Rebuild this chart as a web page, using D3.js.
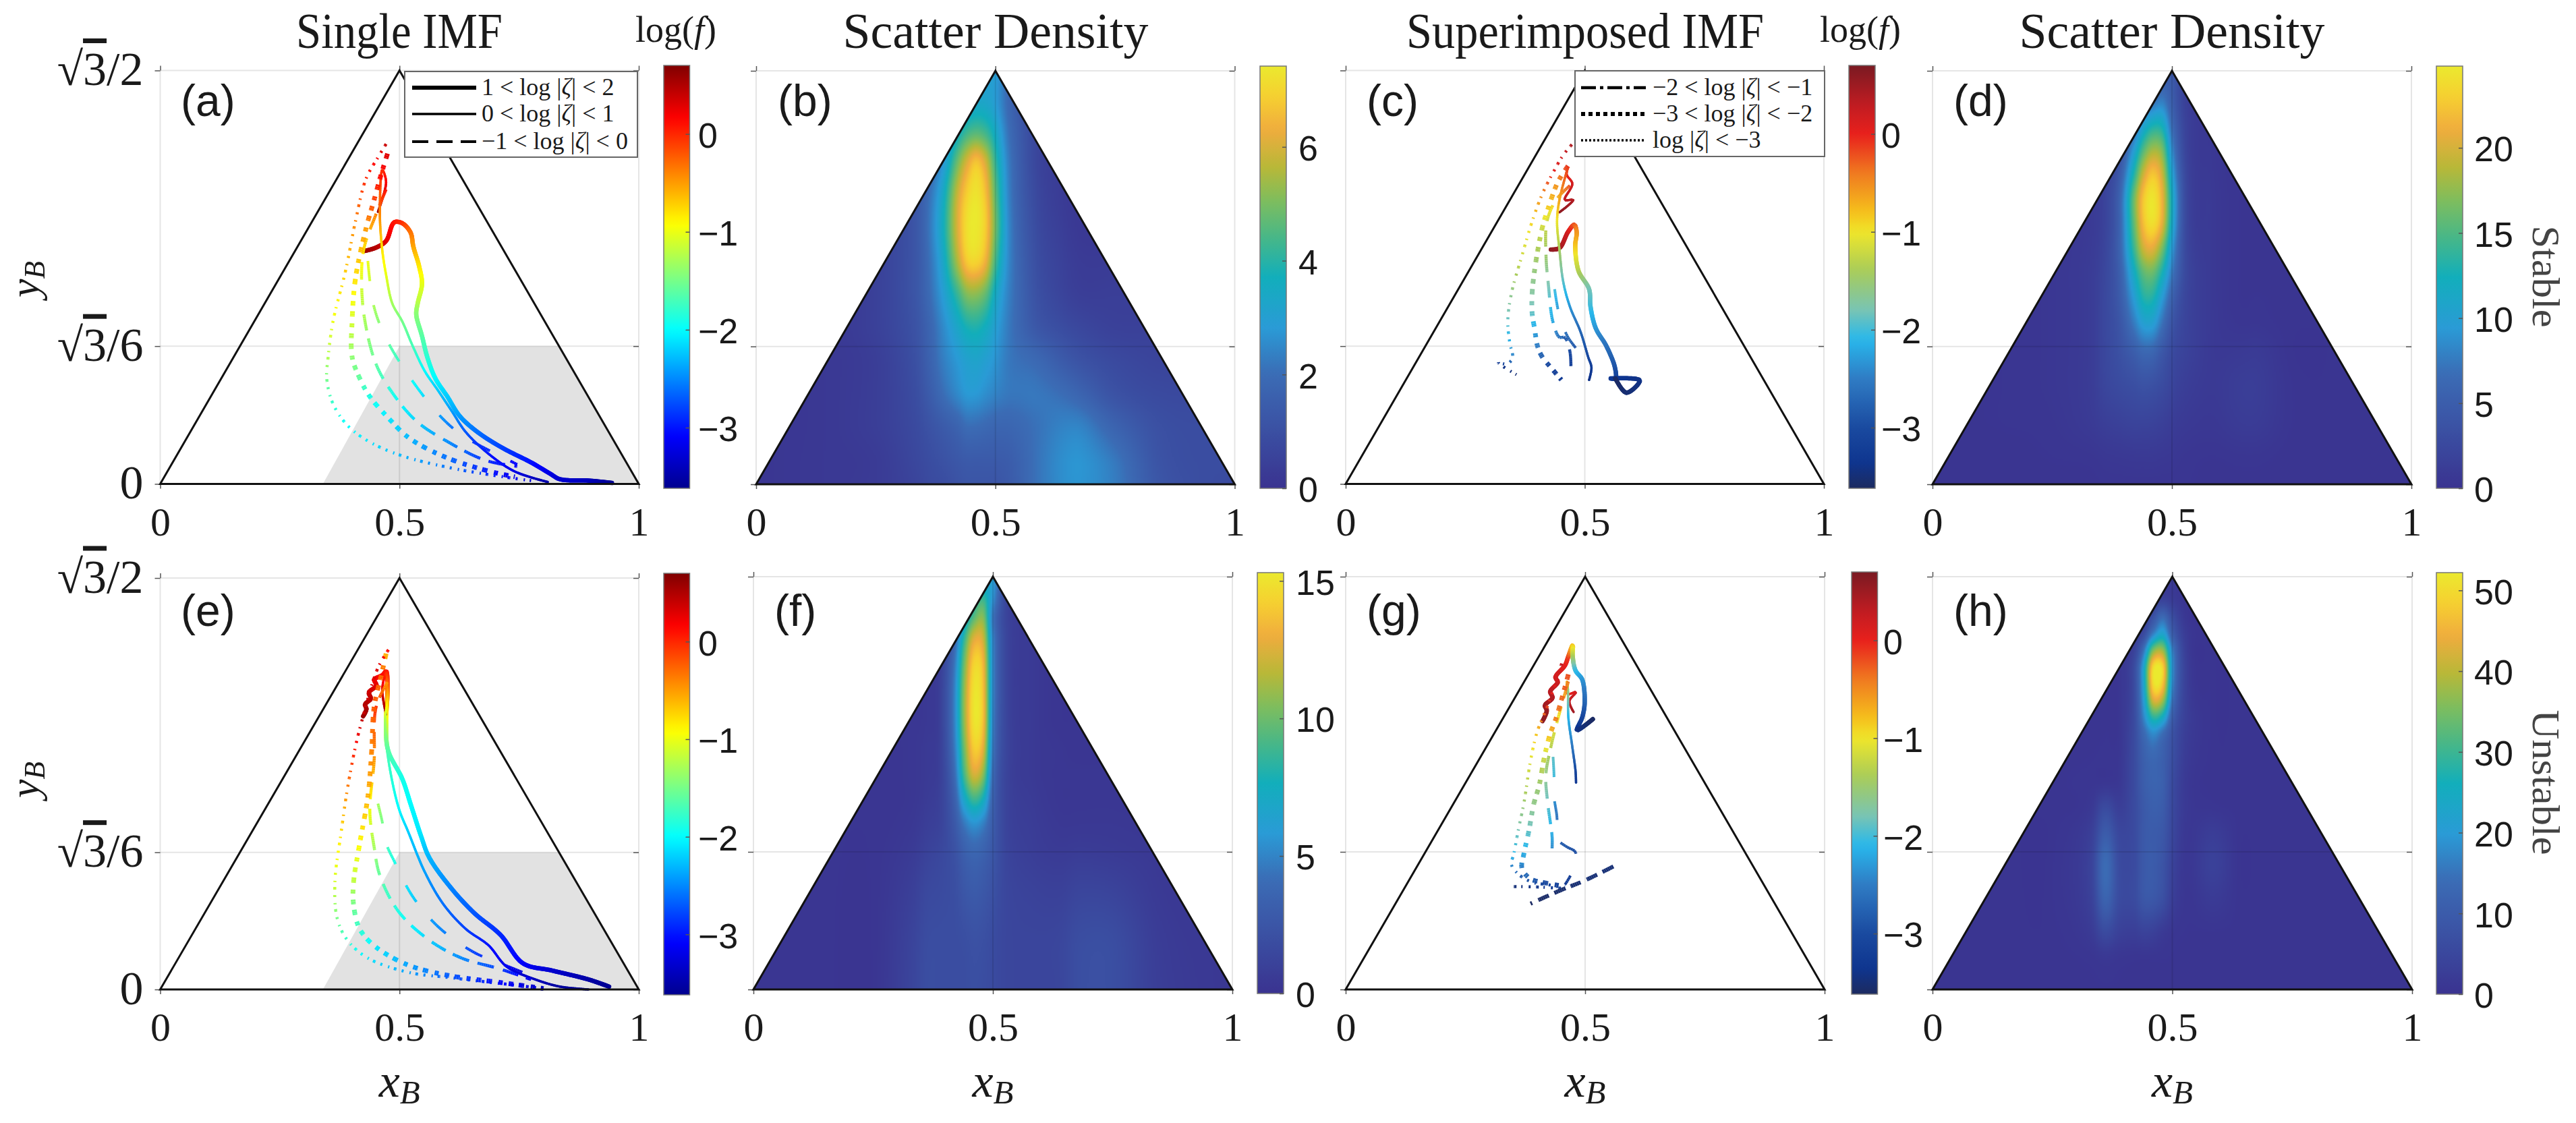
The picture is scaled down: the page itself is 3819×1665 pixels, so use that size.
<!DOCTYPE html>
<html lang="en">
<head>
<meta charset="UTF-8">
<title>Single and superimposed IMF</title>
<script src="https://cdnjs.cloudflare.com/ajax/libs/d3/7.8.5/d3.min.js"></script>
<style>
  body { margin: 0; background: #fff; }
  svg { display: block; filter: blur(0.7px); }
  text { font-family: "Liberation Serif", serif; fill: #1a1a1a; }
  .sans { font-family: "Liberation Sans", sans-serif; }
  .tick line { stroke: #555; stroke-width: 1.5; }
  .domain { display: none; }
</style>
</head>
<body>
<script>
var W = 3819, H = 1665;

// axes
var xTicks = [0, 0.5, 1];
var xTickLabels = ["0", "0.5", "1"];
var yTicks = [0, Math.sqrt(3) / 6, Math.sqrt(3) / 2];
var yTickLabels = [["0"], ["√", "3", "/6"], ["√", "3", "/2"]];
var triangle = [[0, 0], [0.5, Math.sqrt(3) / 2], [1, 0]];
var grayRegion = [[0.34, 0], [0.5, 0.2887], [0.8333, 0.2887], [1, 0]];

// line curves: [x_B, y_B, log f]
var aThick = [[.427,.488,.6],[.451,.495,.5],[.472,.509,.3],[.489,.548,.1],[.506,.546,0],[.523,.527,-.3],[.529,.497,-.5],[.541,.456,-.8],[.547,.419,-1],[.538,.378,-1.2],[.535,.355,-1.4],[.547,.310,-1.6],[.558,.266,-1.8],[.575,.221,-2],[.600,.183,-2.2],[.626,.142,-2.4],[.664,.108,-2.6],[.716,.075,-2.8],[.775,.045,-3],[.814,.022,-3.2],[.835,.010,-3.3],[.895,.007,-3.4],[.944,.002,-3.6]];
var aThin = [[.455,.570,.6],[.472,.632,.2],[.464,.658,0],[.459,.565,-.4],[.464,.490,-.8],[.472,.438,-1],[.485,.378,-1.3],[.506,.340,-1.5],[.528,.288,-1.7],[.553,.236,-2],[.579,.198,-2.2],[.609,.153,-2.4],[.639,.108,-2.7],[.690,.060,-3],[.741,.026,-3.2],[.810,.004,-3.5]];
var aDash = [[.434,.467,-1],[.447,.370,-1.3],[.477,.295,-1.6],[.545,.191,-2.1],[.596,.131,-2.5],[.639,.097,-2.8],[.746,.041,-3.1]];
var aDashDot = [[.472,.617,.1],[.451,.565,-.4],[.425,.490,-.8],[.421,.415,-1.1],[.428,.340,-1.3],[.451,.251,-1.6],[.485,.191,-1.9],[.536,.131,-2.2],[.605,.086,-2.5],[.681,.049,-2.9],[.746,.037,-3.1]];
var aDotThick = [[.475,.692,.3],[.459,.639,.1],[.447,.595,-.1],[.430,.535,-.5],[.408,.430,-.8],[.401,.340,-1.1],[.401,.266,-1.4],[.417,.221,-1.6],[.438,.183,-1.9],[.477,.138,-2.1],[.519,.097,-2.3],[.596,.056,-2.6],[.690,.026,-3],[.741,.015,-3.2]];
var aDotThin = [[.472,.712,.4],[.455,.684,.2],[.430,.639,0],[.408,.550,-.4],[.387,.445,-.7],[.361,.340,-1],[.351,.266,-1.25],[.348,.221,-1.5],[.361,.168,-1.8],[.391,.123,-2],[.434,.090,-2.1],[.502,.060,-2.3],[.605,.034,-2.6],[.716,.015,-3],[.775,.007,-3.3]];

var cThick = [[.429,.491,.6],[.447,.494,.5],[.465,.528,.2],[.478,.543,-.2],[.483,.528,-.5],[.480,.498,-.8],[.487,.446,-1.3],[.509,.408,-1.8],[.512,.371,-2],[.523,.326,-2.3],[.545,.289,-2.6],[.563,.244,-2.9],[.564,.221,-3.1],[.553,.221,-3.3],[.615,.217,-3.4],[.587,.191,-3.5],[.564,.221,-3.6]];
var cThin = [[.447,.569,.6],[.476,.595,.4],[.458,.595,.3],[.474,.629,.2],[.462,.648,0],[.465,.663,-.1],[.447,.595,-.6],[.442,.550,-1],[.447,.491,-1.4],[.455,.423,-1.9],[.469,.371,-2.3],[.491,.319,-2.7],[.507,.266,-3],[.514,.244,-3.2],[.509,.218,-3.4]];
var cDash = [[.437,.408,-2],[.447,.352,-2.4],[.465,.307,-2.7],[.488,.277,-3]];
var cDashDot = [[.469,.625,-.2],[.440,.595,-.8],[.421,.550,-1.2],[.419,.476,-1.5],[.424,.416,-1.8],[.433,.341,-2.2],[.447,.307,-2.6],[.458,.307,-2.8],[.469,.277,-3],[.471,.233,-3.3]];
var cDotThick = [[.465,.666,-.1],[.444,.633,-.5],[.422,.573,-.9],[.411,.536,-1.2],[.397,.461,-1.5],[.390,.401,-1.7],[.390,.356,-1.9],[.395,.326,-2.2],[.401,.289,-2.5],[.411,.266,-2.8],[.429,.244,-3.1],[.451,.218,-3.3]];
var cDotThin = [[.473,.711,.4],[.455,.689,.2],[.433,.651,0],[.411,.607,-.5],[.390,.550,-.9],[.368,.476,-1.2],[.347,.401,-1.6],[.339,.341,-1.9],[.343,.296,-2.2],[.349,.263,-2.5],[.336,.251,-3],[.318,.255,-3.3],[.332,.244,-3.4],[.357,.229,-3.5]];

var eThick = [[.424,.575,.6],[.431,.590,.55],[.428,.600,.5],[.440,.612,.45],[.436,.625,.4],[.452,.640,.3],[.447,.652,.25],[.465,.662,.15],[.472,.670,.1],[.475,.632,-.2],[.472,.564,-1],[.476,.504,-1.6],[.506,.443,-1.9],[.523,.391,-2],[.545,.323,-2.1],[.562,.278,-2.3],[.605,.217,-2.5],[.656,.161,-2.7],[.711,.115,-2.9],[.758,.055,-3.1],[.818,.040,-3.3],[.895,.021,-3.5],[.938,.006,-3.6]];
var eThin = [[.472,.579,.6],[.464,.632,.3],[.472,.666,0],[.475,.617,-.6],[.470,.564,-1.3],[.476,.489,-1.7],[.498,.383,-2],[.519,.330,-2.2],[.553,.247,-2.4],[.592,.179,-2.6],[.639,.127,-2.8],[.686,.093,-3],[.724,.048,-3.2],[.784,.021,-3.4],[.835,.006,-3.55],[.895,0,-3.6]];
var eDash = [[.455,.391,-1.3],[.464,.353,-1.5],[.472,.308,-1.7],[.489,.270,-1.9],[.528,.195,-2.2],[.583,.130,-2.5],[.656,.078,-2.8],[.711,.055,-3.1],[.775,.029,-3.3]];
var eDashDot = [[.475,.647,-.5],[.451,.594,0],[.447,.481,-.5],[.438,.376,-1],[.447,.300,-1.3],[.459,.240,-1.6],[.498,.164,-1.9],[.562,.104,-2.2],[.630,.066,-2.5],[.707,.044,-2.8],[.775,.021,-3.2]];
var eDotThick = [[.472,.707,-.6],[.464,.670,-.3],[.447,.594,-.2],[.442,.504,-.4],[.434,.406,-.6],[.417,.308,-.9],[.404,.225,-1.2],[.404,.179,-1.5],[.417,.127,-1.8],[.451,.089,-2.1],[.519,.051,-2.4],[.605,.029,-2.7],[.716,.014,-3.1],[.801,.002,-3.4]];
var eDotThin = [[.477,.715,.1],[.455,.677,.3],[.421,.564,.4],[.408,.511,.1],[.391,.421,-.4],[.378,.330,-.8],[.365,.225,-1.1],[.370,.149,-1.5],[.391,.104,-1.8],[.434,.066,-2.1],[.519,.036,-2.4],[.605,.025,-2.7],[.733,.010,-3.1],[.801,.002,-3.3]];

var gThick = [[.411,.563,.6],[.420,.585,.55],[.416,.596,.5],[.432,.612,.4],[.427,.625,.35],[.443,.645,.25],[.438,.655,.2],[.458,.680,.05],[.465,.699,-.1],[.474,.722,-.8],[.474,.699,-1.3],[.480,.669,-2],[.494,.650,-2.3],[.499,.601,-2.7],[.494,.571,-3],[.483,.544,-3.4],[.516,.567,-3.6]];
var gThin = [[.476,.582,.5],[.467,.605,.3],[.481,.624,.2],[.464,.620,0],[.462,.646,-.5],[.464,.631,-1.5],[.465,.571,-2.1],[.473,.511,-2.5],[.480,.458,-3],[.481,.434,-3.3]];
var gDash = [[.433,.488,-1.9],[.435,.450,-2],[.435,.405,-2.3],[.441,.364,-2.6],[.444,.314,-2.8],[.462,.299,-2.9],[.480,.288,-3],[.473,.247,-3.2],[.458,.220,-3.3]];
var gDashDot = [[.465,.646,-.4],[.444,.571,-1],[.429,.511,-1.3],[.418,.450,-1.6],[.422,.390,-1.9],[.431,.322,-2.2],[.431,.296,-2.4]];
var gDotThick = [[.465,.661,-.2],[.440,.571,-.4],[.426,.533,-.8],[.415,.488,-1.2],[.404,.428,-1.5],[.393,.390,-1.6],[.382,.330,-1.9],[.372,.284,-2.2],[.368,.254,-2.5],[.386,.232,-2.8],[.415,.224,-3],[.458,.216,-3.2]];
var gDotThin = [[.451,.684,.3],[.437,.639,.1],[.418,.586,-.2],[.400,.541,-.8],[.386,.480,-1.1],[.372,.390,-1.5],[.361,.337,-1.8],[.351,.284,-2.1],[.346,.262,-2.4],[.364,.239,-2.8],[.393,.224,-3],[.422,.220,-3.1],[.451,.213,-3.2],[.400,.215,-3.4],[.346,.216,-3.5]];
var gTail = [[.559,.258,-3.5],[.498,.228,-3.5],[.451,.209,-3.55],[.386,.180,-3.6]];

// density tables: rows are fractions of the triangle height, columns are x_B
var xCols = [0,.15,.25,.33,.36,.39,.42,.44,.46,.48,.50,.53,.585,.64,.68,.75,.85,1];

var bRows = [1,.92,.85,.78,.70,.62,.54,.46,.38,.30,.22,.14,.06,0];
var bDensity = [
  [.1,.1,.1,.1,.1,.1,.1,2,2.4,2.8,2.9,1.8,.6,.2,.2,.1,.1,.1],
  [.1,.1,.2,.6,.9,1.4,2.4,3,3.3,3.3,2.9,1.8,.6,.3,.2,.1,.1,.1],
  [.1,.1,.3,.8,1.3,2.1,3.5,4.3,4.6,4.3,3.5,2,.7,.3,.2,.1,.1,.1],
  [.1,.2,.4,1,1.6,2.7,4.8,6,6.7,5.9,4.2,2.2,.7,.3,.2,.1,.1,.1],
  [.1,.2,.5,1.2,2,3.4,5.8,6.9,7.3,6.6,4.7,2.3,.8,.3,.2,.1,.1,.1],
  [.1,.2,.5,1.2,2.1,3.6,6,7.2,7.4,6.8,4.9,2.4,.9,.4,.2,.2,.1,.1],
  [.1,.2,.5,1.2,2,3.3,5.5,6.8,7,6.3,4.4,2.4,1,.5,.3,.3,.3,.3],
  [.1,.2,.5,1.2,1.9,2.9,4.2,5.1,5.2,4.7,3.5,2.3,1.1,.6,.4,.4,.4,.4],
  [.1,.2,.5,1.1,1.7,2.5,3.3,3.8,3.9,3.6,3,2.2,1.3,.9,.7,.5,.5,.5],
  [.1,.2,.4,1,1.6,2.3,2.8,3.1,3.2,3,2.7,2.2,1.9,1.4,1.1,.8,.6,.6],
  [.1,.2,.4,.9,1.4,2,2.5,2.8,2.8,2.6,2.4,2.2,2.2,2,1.7,1.1,.8,.8],
  [.1,.2,.4,.8,1.1,1.4,1.7,2,2,1.9,1.8,1.8,2.1,2.4,2.4,1.7,1,.9],
  [.1,.2,.3,.7,.9,1.1,1.3,1.4,1.4,1.4,1.4,1.5,2.1,2.6,2.7,2.2,1.1,.9],
  [.1,.2,.3,.6,.8,.9,1.1,1.2,1.2,1.2,1.2,1.4,2.1,2.6,2.7,2.3,1.2,.8]
];

var dRows = [1,.93,.87,.81,.75,.69,.63,.57,.51,.45,.39,.32,.24,.15,.07,0];
var dDensity = [
  [.3,.3,.3,.3,.3,.3,.3,2,3,4,4.5,1.5,.4,.2,.2,.2,.2,.2],
  [.3,.3,.3,.5,.7,1,2.2,4.5,6.5,7.5,5,1.5,.5,.2,.2,.2,.2,.2],
  [.2,.3,.4,.7,1.2,2.2,5.5,10,12.5,12,6.5,1.8,.5,.2,.2,.2,.2,.2],
  [.2,.3,.4,.8,1.5,3.2,9.5,15,18,16.5,8.5,2,.6,.3,.2,.2,.2,.2],
  [.2,.3,.4,.9,1.8,4.5,13,19.5,22.5,19.5,10.5,2.3,.7,.3,.2,.2,.2,.2],
  [.2,.3,.4,.9,2,5.5,16,22.5,24.5,21,12,2.5,.8,.3,.2,.2,.2,.2],
  [.2,.3,.4,.9,2,5.5,15.5,22,24,20.5,11.5,2.5,.8,.3,.2,.2,.2,.2],
  [.2,.3,.5,1,2.2,5.5,14,19.5,20.5,16.5,9.5,2.5,.8,.3,.2,.2,.2,.2],
  [.2,.3,.5,1.1,2.4,5,11.5,15.5,16,12.5,7.5,2.5,.8,.3,.2,.2,.2,.2],
  [.2,.3,.5,1.1,2.5,4.6,9.5,13,13,9.5,5.5,2.2,.8,.3,.3,.2,.2,.2],
  [.2,.3,.5,1.1,2.5,4,7.5,10,10,7,4,2,.8,.4,.4,.2,.2,.2],
  [.2,.3,.5,1.1,2.4,3.5,5,6.2,6,4.3,2.8,1.8,.8,.8,.9,.2,.2,.2],
  [.2,.3,.5,1.1,2.2,2.8,3.3,3.7,3.5,2.9,2.1,1.3,.8,1.2,1.2,.3,.2,.2],
  [.2,.3,.4,.9,1.4,1.7,2,2,1.9,1.6,1.2,.8,.6,1,1,.3,.2,.2],
  [.2,.2,.3,.4,.6,.7,.8,.8,.8,.7,.6,.4,.3,.4,.4,.2,.2,.2],
  [.2,.2,.2,.2,.3,.3,.3,.3,.3,.3,.3,.3,.2,.2,.2,.2,.2,.2]
];

var fRows = [1,.95,.90,.85,.79,.72,.65,.58,.52,.46,.40,.33,.24,.12,0];
var fDensity = [
  [.2,.2,.2,.2,.2,.2,.2,.3,3,5,6,1.2,.5,.2,.2,.2,.2,.2],
  [.2,.2,.2,.2,.2,.2,.3,3,7,8.5,5.5,1.2,.5,.2,.2,.2,.2,.2],
  [.2,.2,.2,.3,.3,.5,2,6,9.5,10.5,4.5,1.2,.5,.2,.2,.2,.2,.2],
  [.2,.2,.2,.3,.4,.7,3.5,8.5,12.5,12,5,1.3,.5,.2,.2,.2,.2,.2],
  [.2,.2,.2,.3,.4,.9,4.5,10,14.3,13.2,5.2,1.3,.5,.2,.2,.2,.2,.2],
  [.2,.2,.2,.3,.4,1,5,10.8,15,13.6,5.2,1.3,.5,.2,.2,.2,.2,.2],
  [.2,.2,.2,.3,.4,1,5,10.8,15,13.6,5,1.3,.5,.2,.2,.2,.2,.2],
  [.2,.2,.2,.3,.5,1,4.6,10,14,12.5,4.6,1.3,.5,.3,.2,.2,.2,.2],
  [.2,.2,.2,.3,.5,1,4,9,12.3,10.5,4,1.2,.5,.3,.3,.3,.2,.2],
  [.2,.2,.2,.3,.6,1.1,3.3,6.8,8.8,7.5,3.4,1.2,.6,.3,.3,.3,.2,.2],
  [.2,.2,.2,.4,.8,1.2,2.7,4.5,5.5,4.8,3,1.2,.7,.4,.4,.4,.3,.2],
  [.2,.2,.2,.6,1.1,1.5,2.2,3.2,3.7,3.4,2.6,1.3,.8,.6,.7,.6,.4,.2],
  [.2,.2,.2,.9,1.5,1.7,2,2.6,2.9,2.7,2.2,1.4,1.1,1,1.3,1.2,.5,.2],
  [.2,.2,.2,1.2,1.8,1.9,1.9,2,2.2,2.1,1.8,1.4,1.3,1.4,1.9,1.9,.7,.3],
  [.2,.2,.2,1.3,1.9,1.9,1.9,1.9,2,1.9,1.7,1.4,1.3,1.4,2,2,.8,.3]
];

var hRows = [1,.95,.90,.86,.82,.78,.74,.70,.66,.62,.56,.50,.44,.38,.30,.22,.14,.08,0];
var hDensity = [
  [.5,.5,.5,.5,.5,.5,.5,.5,.5,1.5,2,.5,.5,.5,.5,.5,.5,.5],
  [.5,.5,.5,.5,.5,.5,.5,.5,2,3,2,.5,.5,.5,.5,.5,.5,.5],
  [.5,.5,.5,.5,.5,.5,.5,2,8,14,7,1,.5,.5,.5,.5,.5,.5],
  [.5,.5,.5,.5,.5,.6,2,6,17,23,11,2,.5,.5,.5,.5,.5,.5],
  [.5,.5,.5,.5,.5,.8,4,15,36,38,17,2.5,.5,.5,.5,.5,.5,.5],
  [.5,.5,.5,.5,.5,1,6,22,50,49,19,3,.5,.5,.5,.5,.5,.5],
  [.5,.5,.5,.5,.5,1,6,22,50,47,18,3,.5,.5,.5,.5,.5,.5],
  [.5,.5,.5,.5,.5,1,6,20,42,38,15,3,.5,.5,.5,.5,.5,.5],
  [.5,.5,.5,.5,.5,1,6,17,29,25,11,3,.5,.5,.5,.5,.5,.5],
  [.5,.5,.5,.5,.6,1,6,13,18,14,8,2.5,.5,.5,.5,.5,.5,.5],
  [.5,.5,.5,.6,.8,1.2,6,11,13,11,7,2,.5,.5,.5,.5,.5,.5],
  [.5,.5,.5,.8,1,1.5,6,10.5,12,11,6,1.5,.5,.5,.5,.5,.5,.5],
  [.5,.5,.5,1.5,6,3,6,9.5,11,10,5.5,1.5,.8,.5,.5,.5,.5,.5],
  [.5,.5,.5,3,10,5,6,9.5,10,9,5,1.2,2.5,.5,.5,.5,.5,.5],
  [.5,.5,.6,4,14,6,6,9.5,10,8,4,1,3.5,.5,.5,.5,.5,.5],
  [.5,.5,.6,3.5,12,6,6,9,9,7,3,.8,2,.5,.5,.5,.5,.5],
  [.5,.5,.5,2,6,3.5,3,4,3.5,2,1,.6,.6,.5,.5,.5,.5,.5],
  [.5,.5,.5,.8,1.5,1,.8,.8,.8,.7,.6,.5,.5,.5,.5,.5,.5,.5],
  [.5,.5,.5,.5,.5,.5,.5,.5,.5,.5,.5,.5,.5,.5,.5,.5,.5,.5]
];

// colour bars
var logfExtent = [-3.62, 0.7];
var logfTicks = [-3, -2, -1, 0];
var bTicks = [0, 2, 4, 6];
var dTicks = [0, 5, 10, 15, 20];
var fTicks = [0, 5, 10, 15];
var hTicks = [0, 10, 20, 30, 40, 50];

var jetStops = [-3.62, -3.08, -2.0, -0.92, 0.16, 0.7];
var jetColors = ["#00008f", "#0000ff", "#00ffff", "#ffff00", "#ff0000", "#800000"];
var softStops = [-3.62, -3.35, -3, -2.5, -2.1, -1.8, -1.4, -1, -0.8, -0.4, 0, 0.3, 0.7];
var softColors = ["#1c2a60", "#0e3590", "#1a4aa0", "#2f7cc4", "#28b8ec", "#78c4b4", "#a8cc5a", "#f0e62a", "#f5c01c", "#f07a20", "#e8201c", "#c01c22", "#7a1a22"];
var densStops = [0, .27, .38, .5, .58, .68, .76, .85, .93, 1];
var densColors = ["#3a3390", "#3b6cb5", "#2a9bd6", "#12aebb", "#3fb68f", "#7dbd5e", "#b8b838", "#f0ac3e", "#f6d030", "#ebe92e"];

// layout in page pixels
var panels = [
  {id: "a", x0: 237.5, x1: 947, top: 104.5, bottom: 717.5, tag: [268, 172], curves: [aThick, aThin, aDash, aDashDot, aDotThick, aDotThin], soft: false, gray: true, yAxis: true},
  {id: "b", x0: 1121, x1: 1830.5, top: 105, bottom: 718, tag: [1153, 172], rows: bRows, density: bDensity, max: 7.42},
  {id: "c", x0: 1995, x1: 2704, top: 104.5, bottom: 717.5, tag: [2026, 172], curves: [cThick, cThin, cDash, cDashDot, cDotThick, cDotThin], soft: true},
  {id: "d", x0: 2865, x1: 3575, top: 105, bottom: 718, tag: [2896, 172], rows: dRows, density: dDensity, max: 24.8},
  {id: "e", x0: 237.5, x1: 947, top: 857, bottom: 1467, tag: [268, 928], curves: [eThick, eThin, eDash, eDashDot, eDotThick, eDotThin], soft: false, gray: true, yAxis: true, xLabel: true},
  {id: "f", x0: 1117, x1: 1827, top: 855, bottom: 1467, tag: [1148, 928], rows: fRows, density: fDensity, max: 15.3, xLabel: true},
  {id: "g", x0: 1995, x1: 2705, top: 855, bottom: 1467, tag: [2026, 928], curves: [gThick, gThin, gDash, gDashDot, gDotThick, gDotThin], extra: gTail, soft: true, xLabel: true},
  {id: "h", x0: 2865, x1: 3576, top: 855, bottom: 1467, tag: [2896, 928], rows: hRows, density: hDensity, max: 52.2, xLabel: true}
];
var bars = [
  {x: 984, w: 38.5, top: 97, bottom: 724, domain: logfExtent, ticks: logfTicks, labelX: 1035, kind: "jet"},
  {x: 1868, w: 39, top: 98, bottom: 724, domain: [0, 7.42], ticks: bTicks, labelX: 1925, kind: "dens"},
  {x: 2741, w: 39, top: 97, bottom: 724, domain: logfExtent, ticks: logfTicks, labelX: 2789, kind: "soft"},
  {x: 3612, w: 39, top: 98, bottom: 724, domain: [0, 24.8], ticks: dTicks, labelX: 3668, kind: "dens"},
  {x: 984, w: 38.5, top: 850, bottom: 1475, domain: logfExtent, ticks: logfTicks, labelX: 1035, kind: "jet"},
  {x: 1864, w: 39, top: 849, bottom: 1473, domain: [0, 15.3], ticks: fTicks, labelX: 1921, kind: "dens"},
  {x: 2745, w: 38.5, top: 848, bottom: 1474, domain: logfExtent, ticks: logfTicks, labelX: 2792, kind: "soft"},
  {x: 3612, w: 39, top: 849, bottom: 1474, domain: [0, 52.2], ticks: hTicks, labelX: 3668, kind: "dens"}
];
var lineStyles = [
  {w: 6.5, dash: null},
  {w: 3.5, dash: null},
  {w: 4, dash: [30, 34]},
  {w: 4.5, dash: [26, 12]},
  {w: 7, dash: [8, 8]},
  {w: 4.5, dash: [4, 7]}
];

var jet = d3.scaleLinear().domain(jetStops).range(jetColors).clamp(true);
var soft = d3.scaleLinear().domain(softStops).range(softColors).clamp(true);
var dens = d3.scaleLinear().domain(densStops).range(densColors).clamp(true);

var svg = d3.select("body").append("svg").attr("width", W).attr("height", H);
var defs = svg.append("defs");

// cubic through unevenly spaced nodes, slopes from finite differences
function cubicAt(xs, ys, x) {
  var n = xs.length, i = d3.bisectRight(xs, x) - 1;
  i = Math.max(0, Math.min(n - 2, i));
  function slope(k) {
    var a = Math.max(0, k - 1), b = Math.min(n - 1, k + 1);
    return (ys[b] - ys[a]) / (xs[b] - xs[a]);
  }
  var h = xs[i + 1] - xs[i], t = (x - xs[i]) / h, t2 = t * t, t3 = t2 * t;
  return (2 * t3 - 3 * t2 + 1) * ys[i] + (t3 - 2 * t2 + t) * h * slope(i) +
    (-2 * t3 + 3 * t2) * ys[i + 1] + (t3 - t2) * h * slope(i + 1);
}

function densityImage(p, g, x, y) {
  var px = Math.round((p.x1 - p.x0) / 2), py = Math.round((p.bottom - p.top) / 2);
  var canvas = document.createElement("canvas");
  canvas.width = px; canvas.height = py;
  var ctx = canvas.getContext("2d"), img = ctx.createImageData(px, py);
  var tAsc = p.rows.slice().reverse(), tbl = p.density.slice().reverse();
  var col = d3.scaleSequential().domain([0, p.max]).interpolator(function(t) { return dens(t); });
  var fx = d3.scaleLinear().domain([0, px]).range([0, 1]);
  var ft = d3.scaleLinear().domain([py, 0]).range([0, 1]);
  for (var i = 0; i < px; i++) {
    var xb = fx(i + .5);
    var column = tbl.map(function(r) { return cubicAt(xCols, r, xb); });
    for (var j = 0; j < py; j++) {
      var v = cubicAt(tAsc, column, ft(j + .5));
      var c = d3.rgb(col(Math.max(0, Math.min(p.max, v))));
      var k = (j * px + i) * 4;
      img.data[k] = c.r; img.data[k + 1] = c.g; img.data[k + 2] = c.b; img.data[k + 3] = 255;
    }
  }
  ctx.putImageData(img, 0, 0);
  defs.append("clipPath").attr("id", "tri" + p.id).append("polygon")
    .attr("points", triangle.map(function(d) { return x(d[0]) + "," + y(d[1]); }).join(" "));
  g.append("image")
    .attr("href", canvas.toDataURL())
    .attr("x", p.x0).attr("y", p.top)
    .attr("width", p.x1 - p.x0).attr("height", p.bottom - p.top)
    .attr("preserveAspectRatio", "none")
    .attr("clip-path", "url(#tri" + p.id + ")");
}

// one curve: smooth it, walk along it and colour each short piece by log f
function drawCurve(g, pts, style, x, y, colour) {
  var line = d3.line().x(function(d) { return x(d[0]); }).y(function(d) { return y(d[1]); }).curve(d3.curveCatmullRom.alpha(0.5));
  var path = g.append("path").attr("d", line(pts)).attr("fill", "none").attr("stroke", "none");
  var node = path.node(), total = node.getTotalLength();
  var cum = [0];
  for (var i = 1; i < pts.length; i++) {
    cum.push(cum[i - 1] + Math.hypot(x(pts[i][0]) - x(pts[i - 1][0]), y(pts[i][1]) - y(pts[i - 1][1])));
  }
  var fAt = d3.scaleLinear().domain(cum.map(function(c) { return c / cum[cum.length - 1]; }))
    .range(pts.map(function(d) { return d[2]; }));
  var step = 3, period = style.dash ? style.dash[0] + style.dash[1] : 0;
  var pieces = [];
  for (var s = 0; s < total; s += step) {
    if (style.dash && (s % period) >= style.dash[0]) continue;
    var e = Math.min(total, s + step + (style.dash ? 0 : .6));
    if (style.dash && (s % period) + step > style.dash[0]) e = s + (style.dash[0] - (s % period));
    pieces.push({a: node.getPointAtLength(s), b: node.getPointAtLength(e), f: fAt((s + e) / 2 / total)});
  }
  path.remove();
  g.append("g").selectAll("line").data(pieces).enter().append("line")
    .attr("x1", function(d) { return d.a.x; }).attr("y1", function(d) { return d.a.y; })
    .attr("x2", function(d) { return d.b.x; }).attr("y2", function(d) { return d.b.y; })
    .attr("stroke", function(d) { return colour(d.f); })
    .attr("stroke-width", style.w)
    .attr("stroke-linecap", style.dash ? "butt" : "round");
}

function subscripted(sel, letter, size) {
  sel.attr("font-size", size).attr("text-anchor", "middle");
  sel.append("tspan").attr("font-style", "italic").text(letter);
  sel.append("tspan").attr("font-style", "italic").attr("font-size", size * 0.7).attr("dy", size * 0.14).text("B");
}

panels.forEach(function(p) {
  var g = svg.append("g");
  var x = d3.scaleLinear().domain([0, 1]).range([p.x0, p.x1]);
  var y = d3.scaleLinear().domain([0, Math.sqrt(3) / 2]).range([p.bottom, p.top]);

  if (p.gray) {
    g.append("polygon").attr("fill", "#e2e2e2")
      .attr("points", grayRegion.map(function(d) { return x(d[0]) + "," + y(d[1]); }).join(" "));
  }
  if (p.density) densityImage(p, g, x, y);

  // grid
  g.selectAll(".gx").data(xTicks).enter().append("line")
    .attr("x1", x).attr("x2", x).attr("y1", p.top).attr("y2", p.bottom)
    .attr("stroke", "#000").attr("stroke-opacity", .1).attr("stroke-width", 2);
  g.selectAll(".gy").data(yTicks).enter().append("line")
    .attr("y1", y).attr("y2", y).attr("x1", p.x0).attr("x2", p.x1)
    .attr("stroke", "#000").attr("stroke-opacity", .1).attr("stroke-width", 2);

  // axes
  var bottom = g.append("g").attr("transform", "translate(0," + p.bottom + ")")
    .call(d3.axisBottom(x).tickValues(xTicks).tickSize(7).tickFormat(function(d, i) { return xTickLabels[i]; }));
  bottom.selectAll("text").attr("font-size", 60).attr("fill", "#1a1a1a").attr("y", 76).attr("dy", 0)
    .style("font-family", '"Liberation Serif", serif');
  g.append("g").attr("transform", "translate(0," + p.top + ")")
    .call(d3.axisTop(x).tickValues(xTicks).tickSize(7).tickFormat(""));
  g.append("g").attr("transform", "translate(" + p.x1 + ",0)")
    .call(d3.axisRight(y).tickValues(yTicks).tickSize(-8).tickFormat(""));
  var left = g.append("g").attr("transform", "translate(" + p.x0 + ",0)")
    .call(d3.axisLeft(y).tickValues(yTicks).tickSize(8).tickFormat(""));
  if (p.yAxis) {
    left.selectAll("text").each(function(d, i) {
      var t = d3.select(this).attr("font-size", 70).attr("fill", "#1a1a1a").attr("x", -25).attr("dy", ".3em")
        .attr("text-anchor", "end").style("font-family", '"Liberation Serif", serif');
      yTickLabels[i].forEach(function(part, k) {
        var s = t.append("tspan").text(part);
        if (yTickLabels[i].length > 1 && k === 1) s.style("text-decoration", "overline");
      });
    });
    svg.append("text").attr("transform", "translate(57," + ((p.top + p.bottom) / 2 + (p.xLabel ? -6 : 3)) + ") rotate(-90)")
      .call(subscripted, "y", 62);
  }
  if (p.xLabel) {
    svg.append("text").attr("transform", "translate(" + x(.5) + ",1626)").call(subscripted, "x", 70);
  }

  // curves
  if (p.curves) {
    var colour = p.soft ? soft : jet;
    p.curves.forEach(function(c, i) { drawCurve(g, c, lineStyles[i], x, y, colour); });
    if (p.extra) drawCurve(g, p.extra, {w: 6, dash: [18, 8]}, x, y, colour);
  }

  // triangle
  g.append("polygon").attr("fill", "none").attr("stroke", "#111").attr("stroke-width", 3)
    .attr("stroke-linejoin", "miter")
    .attr("points", triangle.map(function(d) { return x(d[0]) + "," + y(d[1]); }).join(" "));

  svg.append("text").attr("class", "sans").attr("x", p.tag[0]).attr("y", p.tag[1])
    .attr("font-size", 66).text("(" + p.id + ")");
});

// colour bars
bars.forEach(function(b, i) {
  var scale = d3.scaleLinear().domain(b.domain).range([b.bottom, b.top]);
  var id = "bar" + i, span = b.domain[1] - b.domain[0];
  var col = b.kind === "jet" ? jet : b.kind === "soft" ? soft : function(v) { return dens(v / span); };
  var grad = defs.append("linearGradient").attr("id", id).attr("x1", 0).attr("x2", 0).attr("y1", 1).attr("y2", 0);
  d3.range(0, 1.0001, 0.02).forEach(function(t) {
    grad.append("stop").attr("offset", t).attr("stop-color", col(b.domain[0] + t * span));
  });
  svg.append("rect").attr("x", b.x).attr("y", b.top).attr("width", b.w).attr("height", b.bottom - b.top)
    .attr("fill", "url(#" + id + ")").attr("stroke", "#777").attr("stroke-width", 1.5);
  var ax = svg.append("g").attr("transform", "translate(" + (b.x + b.w) + ",0)")
    .call(d3.axisRight(scale).tickValues(b.ticks).tickSize(-6).tickFormat(function(d) { return String(d).replace("-", "−"); }));
  ax.selectAll("text").attr("class", "sans").attr("font-size", 52).attr("fill", "#222")
    .attr("x", b.labelX - b.x - b.w).attr("dy", ".38em").attr("text-anchor", "start")
    .style("font-family", '"Liberation Sans", sans-serif');
});

// titles
var titles = [
  {s: "Single IMF", x: 592, len: 306},
  {s: "Scatter Density", x: 1476, len: 453},
  {s: "Superimposed IMF", x: 2350, len: 530},
  {s: "Scatter Density", x: 3220, len: 453}
];
svg.selectAll(".title").data(titles).enter().append("text")
  .attr("x", function(d) { return d.x; }).attr("y", 71)
  .attr("text-anchor", "middle").attr("font-size", 74)
  .attr("textLength", function(d) { return d.len; }).attr("lengthAdjust", "spacingAndGlyphs")
  .text(function(d) { return d.s; });

[1002, 2758].forEach(function(cx) {
  var t = svg.append("text").attr("x", cx).attr("y", 62).attr("text-anchor", "middle").attr("font-size", 54);
  t.append("tspan").text("log(");
  t.append("tspan").attr("font-style", "italic").text("f");
  t.append("tspan").text(")");
});

[{s: "Stable", y: 410, len: 151}, {s: "Unstable", y: 1160, len: 215}].forEach(function(d) {
  svg.append("text").attr("transform", "translate(3755," + d.y + ") rotate(90)")
    .attr("text-anchor", "middle").attr("font-size", 56)
    .style("fill", "#444")
    .attr("textLength", d.len).attr("lengthAdjust", "spacingAndGlyphs").text(d.s);
});

// legends
function mathLabel(sel, parts) {
  parts.forEach(function(p) {
    var s = sel.append("tspan").text(p);
    if (p === "ζ") s.attr("font-style", "italic");
  });
}
var legends = [
  {x: 600, y: 106, w: 345, h: 127, lineX: [611, 706], textX: 714, rows: [
    {y: 130, w: 6, dash: null, parts: ["1 < log |", "ζ", "| < 2"]},
    {y: 169, w: 3.5, dash: null, parts: ["0 < log |", "ζ", "| < 1"]},
    {y: 210, w: 4, dash: "24,12", parts: ["−1 < log |", "ζ", "| < 0"]}
  ]},
  {x: 2335, y: 105, w: 370, h: 127, lineX: [2344, 2440], textX: 2450, rows: [
    {y: 130, w: 4.5, dash: "22,6,5,6", parts: ["−2 < log |", "ζ", "| < −1"]},
    {y: 169, w: 6, dash: "6,5", parts: ["−3 < log |", "ζ", "| < −2"]},
    {y: 208, w: 3.5, dash: "3,3", parts: ["log |", "ζ", "| < −3"]}
  ]}
];
legends.forEach(function(l) {
  var g = svg.append("g");
  g.append("rect").attr("x", l.x).attr("y", l.y).attr("width", l.w).attr("height", l.h)
    .attr("fill", "#fff").attr("stroke", "#666").attr("stroke-width", 2);
  l.rows.forEach(function(r) {
    g.append("line").attr("x1", l.lineX[0]).attr("x2", l.lineX[1]).attr("y1", r.y).attr("y2", r.y)
      .attr("stroke", "#000").attr("stroke-width", r.w).attr("stroke-dasharray", r.dash);
    g.append("text").attr("x", l.textX).attr("y", r.y + 11).attr("font-size", 36).call(mathLabel, r.parts);
  });
});
</script>
</body>
</html>
